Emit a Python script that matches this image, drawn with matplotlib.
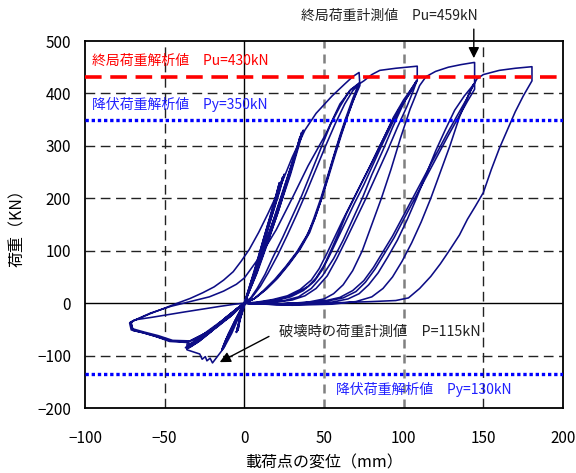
import numpy as np
import matplotlib
matplotlib.use("Agg")
import matplotlib.pyplot as plt

plt.rcParams['font.family'] = ['Noto Sans CJK JP', 'DejaVu Sans']

# reference lines (kN)
pu_calc = 432
py_calc = 350
py_calc_neg = -135

x_ticks = [-100, -50, 0, 50, 100, 150, 200]
y_ticks = [-200, -100, 0, 100, 200, 300, 400, 500]

# ---- hysteresis loops, displacement (mm) / load (kN), in loading order ----
c24a_x = [0, 6, 12, 18, 22, 19, 12, 5, 0, -3, -5, -3, 0]
c24a_y = [0, 60, 122, 182, 230, 196, 122, 45, -5, -35, -56, -30, 0]
c24b_x = [0, 6, 12, 18, 24, 21, 13, 6, 0, -3, -5, -2, 0]
c24b_y = [0, 56, 116, 178, 240, 208, 128, 52, -4, -33, -55, -22, 0]
c24c_x = [0, 5, 12, 19, 25, 22, 14, 6, 0, -3, -4, -2, 0]
c24c_y = [0, 48, 112, 184, 246, 212, 135, 55, -3, -32, -52, -20, 0]

c36a_x = [0, 7, 14, 21, 28, 33, 36, 34, 28, 20, 12, 5, 0, -5, -10, -14, -11, -6, 0]
c36a_y = [0, 55, 115, 178, 240, 292, 326, 305, 248, 172, 102, 38, 0, -30, -60, -89, -68, -34, 0]
c36b_x = [0, 7, 14, 21, 27, 32, 35, 33, 27, 19, 11, 4, 0, -5, -9, -13, -10, -5, 0]
c36b_y = [0, 52, 112, 172, 232, 285, 318, 296, 240, 166, 96, 32, -2, -30, -57, -85, -64, -30, 0]
c36c_x = [0, 8, 15, 22, 29, 34, 37, 35, 29, 21, 13, 5, 0, -5, -10, -14, -12, -6, 0]
c36c_y = [0, 58, 118, 182, 246, 298, 330, 312, 256, 180, 108, 40, 2, -28, -58, -88, -72, -36, 0]

n72a_x = [0, -10, -23, -36, -47, -56, -64, -71, -72]
n72a_y = [0, -28, -55, -75, -73, -63, -56, -51, -38]
l72a_x = [-72, -69, -59, -48, -42, -34, -26, -19, -13, -7, -2, 3, 9, 15, 22, 30, 38, 45, 55, 63, 68, 72, 72.5]
l72a_y = [-38, -33, -20, -7, 0, 9, 20, 31, 44, 60, 80, 102, 135, 172, 218, 278, 330, 362, 395, 418, 432, 440, 415]
u72a_x = [72.5, 68, 64, 60, 56, 52, 48, 44, 39, 33, 26, 19, 12, 6, 0]
u72a_y = [415, 384, 352, 316, 278, 236, 195, 160, 128, 98, 70, 45, 24, 8, 0]

n36a_x = [0, -8, -17, -26, -32, -36, -34, -28, -20, -12, -5, 0]
n36a_y = [0, -22, -44, -64, -78, -86, -84, -72, -52, -30, -11, 0]
r72b_x = [0, 4, 8, 13, 18, 24, 30, 36, 42, 48, 54, 60, 66, 72]
r72b_y = [0, 10, 28, 55, 88, 125, 165, 205, 250, 295, 340, 375, 405, 420]
u72b_x = [72, 68, 64, 60, 56, 52, 48, 44, 40, 34, 27, 20, 13, 6, 0]
u72b_y = [420, 390, 356, 320, 280, 240, 200, 165, 132, 100, 72, 46, 25, 8, 0]

n36b_x = [0, -9, -18, -27, -33, -36, -35, -29, -21, -13, -5, 0]
n36b_y = [0, -24, -47, -67, -80, -87, -85, -74, -55, -33, -12, 0]
r72c_x = [0, 5, 10, 15, 21, 27, 33, 39, 45, 51, 57, 63, 68, 72]
r72c_y = [0, 12, 32, 58, 92, 130, 170, 212, 256, 300, 342, 380, 405, 418]
u72c_x = [72, 69, 65, 61, 57, 53, 49, 45, 41, 35, 28, 21, 14, 7, 0]
u72c_y = [418, 392, 358, 322, 283, 243, 204, 168, 135, 103, 74, 48, 27, 10, 0]

n72b_x = [0, -9, -21, -34, -45, -54, -63, -70, -71.5]
n72b_y = [0, -26, -52, -72, -71, -62, -55, -49, -36]
l108a_x = [-71.5, -59, -46, -34, -22, -13, -5, 0, 10, 20, 30, 40, 51, 60, 67, 73, 75, 80, 85, 95, 108]
l108a_y = [-36, -19, -6, 3, 12, 23, 36, 48, 90, 140, 200, 262, 322, 380, 408, 420, 424, 436, 444, 448, 452]
u108a_x = [108.5, 108.5, 104, 100, 93.5, 87, 80, 74, 69, 64, 60, 55, 50, 45, 40, 32, 25, 15, 5, 0]
u108a_y = [452, 424, 405, 388, 354, 312, 268, 232, 201, 170, 140, 105, 72, 48, 32, 18, 10, 4, 0, 0]

n36c_x = [0, -8, -18, -27, -33, -36, -34, -28, -20, -12, -4, 0]
n36c_y = [0, -20, -42, -62, -76, -84, -82, -70, -50, -28, -9, 0]
r108b_x = [0, 10, 20, 30, 38, 45, 52, 58, 64, 70, 76, 83, 90, 96, 102, 106, 108]
r108b_y = [0, 0, 2, 6, 14, 28, 52, 85, 122, 160, 198, 245, 292, 335, 375, 405, 422]
u108b_x = [108, 103, 97, 91, 85, 78, 72, 67, 62, 57, 52, 47, 42, 35, 27, 18, 8, 0]
u108b_y = [422, 396, 370, 336, 300, 256, 220, 190, 160, 128, 96, 66, 44, 26, 14, 7, 2, 0]

n72c_x = [0, -10, -22, -35, -46, -55, -63, -70, -71]
n72c_y = [0, -27, -54, -74, -72, -64, -57, -52, -37]
ret72c_x = [-71, -69, -58, -48, -38, -27.5, -15, -6, 0]
ret72c_y = [-37, -32, -27, -22, -17, -12, -6, -2, 0]
r108c_x = [0, 12, 24, 34, 42, 49, 56, 62, 68, 74, 80, 87, 93, 99, 104, 108]
r108c_y = [0, 1, 4, 12, 28, 52, 85, 120, 160, 200, 245, 292, 335, 375, 405, 424]
u108c_x = [108, 104, 99, 93, 87, 81, 75, 69, 64, 59, 54, 49, 44, 37, 29, 20, 10, 0]
u108c_y = [424, 402, 378, 344, 306, 266, 226, 190, 158, 126, 94, 64, 42, 24, 12, 5, 1, 0]

n36d_x = [0, -9, -19, -28, -34, -37, -35, -29, -21, -13, -5, 0]
n36d_y = [0, -23, -46, -66, -79, -85, -83, -72, -53, -31, -11, 0]
l144a_x = [0, 20, 40, 50, 56, 62, 68, 74, 80, 86, 92, 98, 104, 110, 114, 120, 128, 136, 144]
l144a_y = [0, -2, 2, 8, 18, 35, 62, 100, 150, 200, 255, 315, 370, 415, 432, 442, 450, 455, 459]
u144a_x = [144.5, 144.5, 140, 135, 128, 121, 114, 107, 100, 94, 88, 82, 76, 70, 62, 52, 40, 25, 10, 0]
u144a_y = [459, 408, 385, 358, 320, 280, 240, 200, 160, 125, 95, 65, 40, 22, 10, 4, 1, -1, -2, 0]

n36e_x = [0, -7, -16, -25, -31, -35, -34, -29, -21, -13, -5, 0]
n36e_y = [0, -21, -43, -63, -75, -83, -82, -71, -52, -31, -11, 0]
r144b_x = [0, 20, 40, 55, 65, 72, 78, 84, 90, 96, 102, 108, 114, 120, 126, 132, 138, 142, 144]
r144b_y = [0, -3, -2, 2, 8, 18, 35, 58, 88, 120, 158, 200, 245, 290, 330, 368, 395, 410, 418]
u144b_x = [144, 140, 134, 127, 120, 113, 106, 99, 93, 87, 81, 75, 68, 60, 50, 38, 24, 10, 0]
u144b_y = [418, 392, 360, 322, 282, 242, 202, 162, 128, 98, 68, 43, 24, 11, 4, 1, -1, -2, 0]

n36f_x = [0, -8, -18, -27, -33, -36, -35, -30, -22, -13, -5, 0]
n36f_y = [0, -22, -45, -65, -78, -86, -85, -73, -54, -32, -12, 0]
l180_x = [0, 30, 55, 70, 80, 87, 93, 99, 105, 111, 117, 123, 129, 135, 141, 146, 150, 160, 170, 180]
l180_y = [0, -4, -2, 3, 12, 28, 50, 80, 115, 155, 200, 250, 300, 355, 400, 428, 436, 444, 448, 451]
u180_x = [180.5, 180.5, 175, 170, 165, 160, 155, 150, 145, 140, 135, 129, 123, 117, 110, 103, 95, 80, 60, 40, 20, 0]
u180_y = [451, 424, 395, 365, 330, 295, 255, 211, 185, 160, 130, 102, 75, 51, 28, 10, 5, 3, 1, 0, -2, 0]

nfail_x = [0, -8, -17, -26, -32, -36, -36, -33, -28, -26.5, -24.5, -23.5, -21.5, -20, -17, -13, -8, -4, 0]
nfail_y = [0, -22, -44, -64, -76, -78, -89, -92, -97, -107, -102, -110, -105, -114, -102, -86, -58, -30, 0]

segments = [
    (c24a_x, c24a_y), (c24b_x, c24b_y), (c24c_x, c24c_y),
    (c36a_x, c36a_y), (c36b_x, c36b_y), (c36c_x, c36c_y),
    (n72a_x, n72a_y), (l72a_x, l72a_y), (u72a_x, u72a_y),
    (n36a_x, n36a_y), (r72b_x, r72b_y), (u72b_x, u72b_y),
    (n36b_x, n36b_y), (r72c_x, r72c_y), (u72c_x, u72c_y),
    (n72b_x, n72b_y), (l108a_x, l108a_y), (u108a_x, u108a_y),
    (n36c_x, n36c_y), (r108b_x, r108b_y), (u108b_x, u108b_y),
    (n72c_x, n72c_y), (ret72c_x, ret72c_y), (r108c_x, r108c_y), (u108c_x, u108c_y),
    (n36d_x, n36d_y), (l144a_x, l144a_y), (u144a_x, u144a_y),
    (n36e_x, n36e_y), (r144b_x, r144b_y), (u144b_x, u144b_y),
    (n36f_x, n36f_y), (l180_x, l180_y), (u180_x, u180_y),
    (nfail_x, nfail_y),
]
disp = np.concatenate([np.asarray(sx, dtype=float) for sx, _ in segments])
load = np.concatenate([np.asarray(sy, dtype=float) for _, sy in segments])

fig = plt.figure(figsize=(5.76, 4.73), dpi=100)
ax = fig.add_axes([0.1476, 0.1374, 0.8299, 0.7759])
ax.set_xlim(-100, 200)
ax.set_ylim(-200, 500)

# grid
for xv in x_ticks[1:-1]:
    if xv == 0:
        ax.axvline(xv, color="black", lw=1.0, zorder=1)
    elif xv in (50, 100):
        ax.axvline(xv, color="#808080", lw=1.8, linestyle=(0, (3.6, 2.4)), zorder=1)
    else:
        ax.axvline(xv, color="#222222", lw=1.0, linestyle=(0, (7, 4)), zorder=1)
for yv in y_ticks[1:-1]:
    if yv == 0:
        ax.axhline(yv, color="black", lw=1.0, zorder=1)
    else:
        ax.axhline(yv, color="#222222", lw=1.0, linestyle=(0, (7, 4)), zorder=1)

ax.plot(disp, load, color="#0d0d85", lw=1.15, zorder=3)

ax.axhline(pu_calc, color="#ff0000", lw=2.6, linestyle=(0, (4.6, 2.4)), zorder=4)
ax.axhline(py_calc, color="#0000ff", lw=2.4, linestyle=(0, (1, 0.85)), zorder=4)
ax.axhline(py_calc_neg, color="#0000ff", lw=2.4, linestyle=(0, (1, 0.85)), zorder=4)

ax.text(-95.5, 462, "終局荷重解析値　Pu=430kN", color="#ff0000", fontsize=10, va="center")
ax.text(-95.5, 378, "降伏荷重解析値　Py=350kN", color="#2020ff", fontsize=10, va="center")
ax.text(57.5, -164, "降伏荷重解析値　Py=130kN", color="#2020ff", fontsize=10, va="center")

ax.text(35.5, 548, "終局荷重計測値　Pu=459kN", color="#222222", fontsize=10, va="center")
ax.annotate("", xy=(144, 462), xytext=(144, 528),
            arrowprops=dict(arrowstyle="-|>", color="black", lw=1.0, mutation_scale=16),
            annotation_clip=False)

ax.text(22, -54, "破壊時の荷重計測値　P=115kN", color="#222222", fontsize=10.3, va="center")
ax.annotate("", xy=(-17, -115), xytext=(17, -61),
            arrowprops=dict(arrowstyle="-|>", color="black", lw=1.0, mutation_scale=16))

ax.set_xticks(x_ticks)
ax.set_yticks(y_ticks)
ax.tick_params(length=0, labelsize=11)
ax.tick_params(axis="x", pad=16)
ax.tick_params(axis="y", pad=10)
for sp in ax.spines.values():
    sp.set_linewidth(1.3)

ax.set_xlabel("載荷点の変位（mm）", fontsize=11.5, labelpad=5)
ax.set_ylabel("荷重（KN）", fontsize=11.5, labelpad=8)

fig.savefig("out.png", dpi=100)
